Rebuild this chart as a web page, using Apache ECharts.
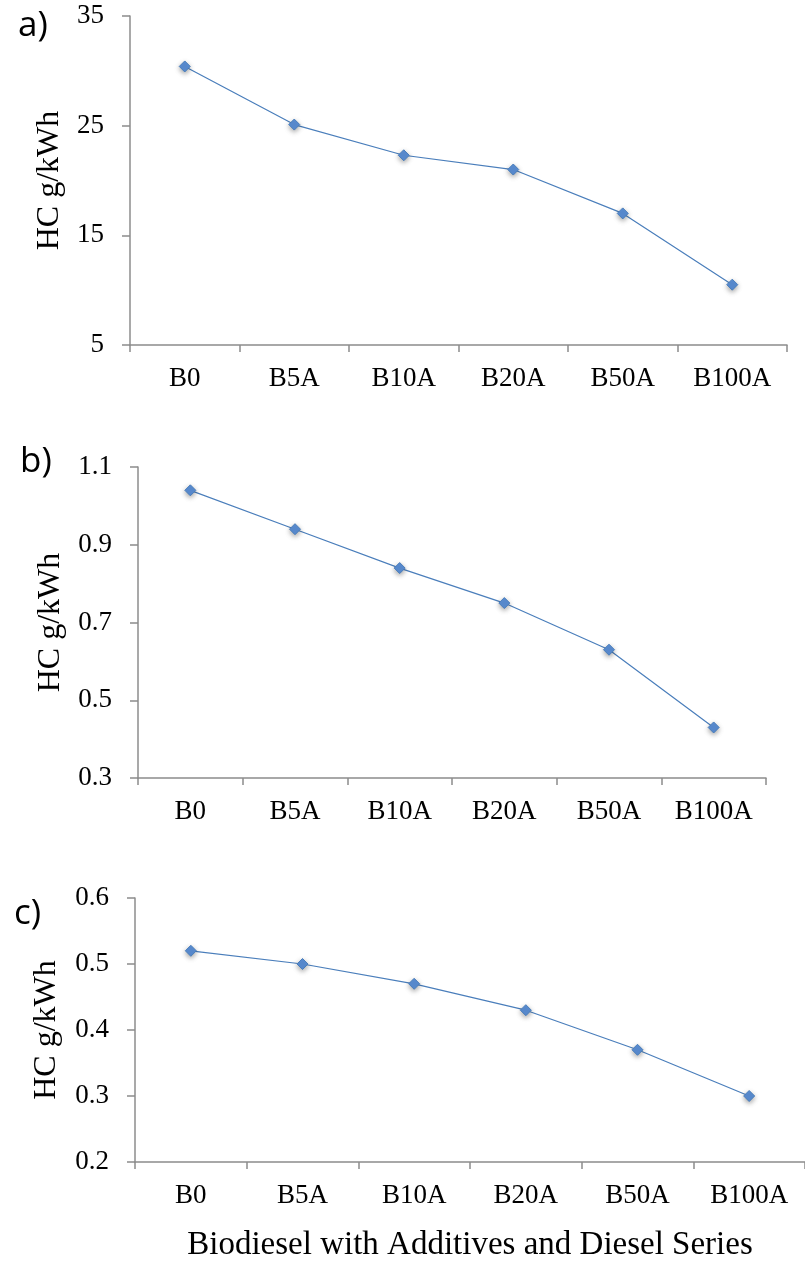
<!DOCTYPE html>
<html>
<head>
<meta charset="utf-8">
<script src="https://cdn.jsdelivr.net/npm/echarts@6/dist/echarts.min.js"></script>
<style>
html,body{margin:0;padding:0;background:#fff;}
#c{width:805px;height:1263px;}
</style>
</head>
<body>
<div id="c"></div>
<script>
// ---- data ----
const categories = ['B0', 'B5A', 'B10A', 'B20A', 'B50A', 'B100A'];
const hcA = [30.4, 25.1, 22.3, 21.0, 17.0, 10.5];
const hcB = [1.04, 0.94, 0.84, 0.75, 0.63, 0.43];
const hcC = [0.52, 0.50, 0.47, 0.43, 0.37, 0.30];
const panelLabels = ['a)', 'b)', 'c)'];
const yTitle = 'HC g/kWh';
const xTitle = 'Biodiesel with Additives and Diesel Series';
const yRangeA = [5, 35, 10];
const yRangeB = [0.3, 1.1, 0.2];
const yRangeC = [0.2, 0.6, 0.1];

const serif = '"Liberation Serif", "DejaVu Serif", serif';
const axisGrey = '#8c8c8c';
const lineBlue = '#4a7ebb';
const markBlue = '#5b8fd6';

const grids = [
  {left: 130, top: 16, width: 657, height: 329},
  {left: 138, top: 467, width: 628, height: 311},
  {left: 135, top: 898, width: 673, height: 268}
];
const ranges = [yRangeA, yRangeB, yRangeC];
const datas = [hcA, hcB, hcC];
const yNameGaps = [64, 71, 72];

const xAxes = grids.map((g, i) => ({
  type: 'category', gridIndex: i, data: categories, boundaryGap: true,
  axisLine: {lineStyle: {color: axisGrey, width: 1.5}},
  axisTick: {show: true, length: 7, lineStyle: {color: axisGrey, width: 1.5}},
  axisLabel: {color: '#000', fontFamily: serif, fontSize: 27, margin: 20},
  name: i === 2 ? xTitle : '', nameLocation: 'middle', nameGap: 67,
  nameTextStyle: {color: '#000', fontFamily: serif, fontSize: 33}
}));
const yAxes = grids.map((g, i) => ({
  type: 'value', gridIndex: i, min: ranges[i][0], max: ranges[i][1], interval: ranges[i][2],
  axisLine: {show: true, lineStyle: {color: axisGrey, width: 1.5}},
  axisTick: {show: true, length: 8, lineStyle: {color: axisGrey, width: 1.5}},
  splitLine: {show: false},
  axisLabel: {color: '#000', fontFamily: serif, fontSize: 27, margin: 26,
    formatter: v => (i === 0 ? String(Math.round(v)) : (Math.round(v * 10) / 10).toFixed(1))},
  name: yTitle, nameLocation: 'middle', nameGap: yNameGaps[i],
  nameTextStyle: {color: '#000', fontFamily: serif, fontSize: 32}
}));
const series = datas.map((d, i) => ({
  type: 'line', xAxisIndex: i, yAxisIndex: i, data: d,
  symbol: 'diamond', symbolSize: 11, showAllSymbol: true,
  lineStyle: {color: lineBlue, width: 1.2},
  itemStyle: {color: markBlue, borderColor: '#4a7ebb', borderWidth: 1,
    shadowBlur: 5, shadowColor: 'rgba(0,0,0,0.35)', shadowOffsetY: 2},
  animation: false
}));
const labelPos = [[13, 4], [15, 440], [9, 892]];
const titles = panelLabels.map((t, i) => ({
  text: t, left: labelPos[i][0], top: labelPos[i][1],
  textStyle: {fontFamily: '"Open Sans", "Liberation Sans", sans-serif', fontSize: 35, fontWeight: 'normal', color: '#000'}
}));

const chart = echarts.init(document.getElementById('c'), null, {renderer: 'canvas'});
chart.setOption({
  animation: false,
  backgroundColor: '#fff',
  title: titles,
  grid: grids,
  xAxis: xAxes,
  yAxis: yAxes,
  series: series
});
</script>
</body>
</html>
